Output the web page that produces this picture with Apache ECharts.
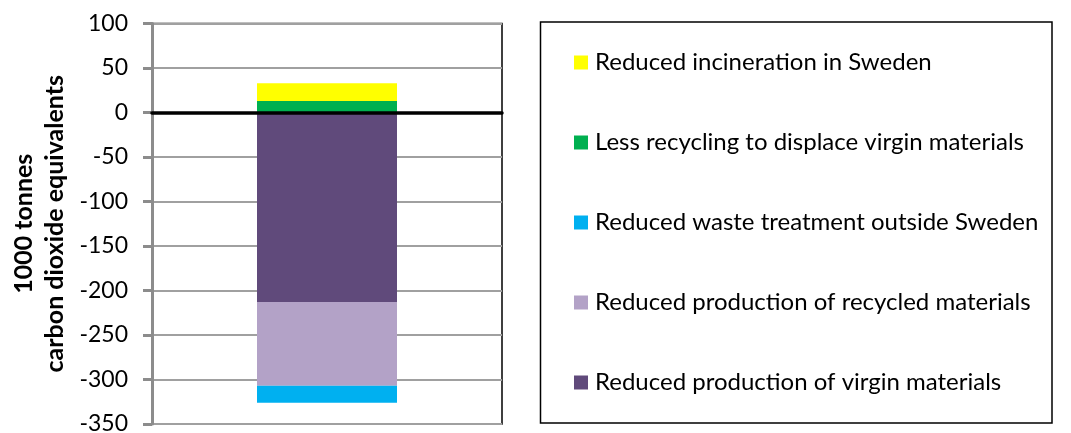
<!DOCTYPE html>
<html>
<head>
<meta charset="utf-8">
<script src="https://cdn.jsdelivr.net/npm/echarts@6/dist/echarts.min.js"></script>
<style>
html,body{margin:0;padding:0;background:#fff;}
#chart{width:1071px;height:433px;}
</style>
</head>
<body>
<div id="chart"></div>
<script>
var categories = [''];
var yTicks = [-350, -300, -250, -200, -150, -100, -50, 0, 50, 100];
var seriesNames = [
  'Reduced incineration in Sweden',
  'Less recycling to displace virgin materials',
  'Reduced waste treatment outside Sweden',
  'Reduced production of recycled materials',
  'Reduced production of virgin materials'
];
var incinerationSweden = [20];
var lessRecycling = [13];
var wasteTreatmentOutside = [-19];
var recycledProduction = [-94];
var virginProduction = [-213];

var colors = {
  'Reduced incineration in Sweden': '#FFFF00',
  'Less recycling to displace virgin materials': '#00B050',
  'Reduced waste treatment outside Sweden': '#00B0F0',
  'Reduced production of recycled materials': '#B3A2C7',
  'Reduced production of virgin materials': '#604A7B'
};

function bar(name, data) {
  return {
    name: name, type: 'bar', stack: 'total', data: data,
    barWidth: '40%',
    itemStyle: { color: colors[name] },
    emphasis: { disabled: true }
  };
}

var chart = echarts.init(document.getElementById('chart'));
chart.setOption({
  animation: false,
  textStyle: { fontFamily: 'Lato' },
  grid: {
    left: 152, right: 569, top: 23.5, bottom: 9,
    containLabel: false,
    outerBoundsMode: 'none',
    show: true, borderColor: '#000', borderWidth: 1.5, backgroundColor: '#fff'
  },
  legend: {
    orient: 'vertical',
    left: 569, top: 44.5,
    itemWidth: 14, itemHeight: 14,
    itemGap: 54,
    icon: 'rect',
    data: seriesNames,
    textStyle: { fontFamily: 'Lato', fontSize: 24, color: '#000', lineHeight: 26, padding: [0, 0, 0, 2] },
    selectedMode: false
  },
  graphic: [{
    type: 'rect',
    shape: { x: 540.5, y: 22, width: 511.5, height: 401 },
    style: { fill: 'none', stroke: '#000', lineWidth: 1.5 },
    z: 0
  }],
  xAxis: {
    type: 'category',
    data: categories,
    axisLine: { show: true, onZero: true, lineStyle: { color: '#000', width: 3.5 } },
    axisTick: { show: false },
    axisLabel: { show: false },
    splitLine: { show: false },
    z: 5
  },
  yAxis: {
    type: 'value',
    min: -350, max: 100, interval: 50,
    name: '1000 tonnes\ncarbon dioxide equivalents',
    nameLocation: 'middle',
    nameRotate: 90,
    nameGap: 82,
    nameTextStyle: { fontFamily: 'Lato', fontWeight: 'bold', fontSize: 25, color: '#000', lineHeight: 31 },
    axisLine: { show: true, lineStyle: { color: '#8c8c8c', width: 3 } },
    axisTick: { show: true, length: 9, lineStyle: { color: '#8c8c8c', width: 3 } },
    axisLabel: {
      margin: 24, fontFamily: 'Lato', fontSize: 23, color: '#000',
      customValues: yTicks
    },
    splitLine: { show: true, lineStyle: { color: '#a0a0a0', width: 2 } }
  },
  series: [
    bar(seriesNames[1], lessRecycling),
    bar(seriesNames[0], incinerationSweden),
    bar(seriesNames[4], virginProduction),
    bar(seriesNames[3], recycledProduction),
    bar(seriesNames[2], wasteTreatmentOutside)
  ]
});
</script>
</body>
</html>
